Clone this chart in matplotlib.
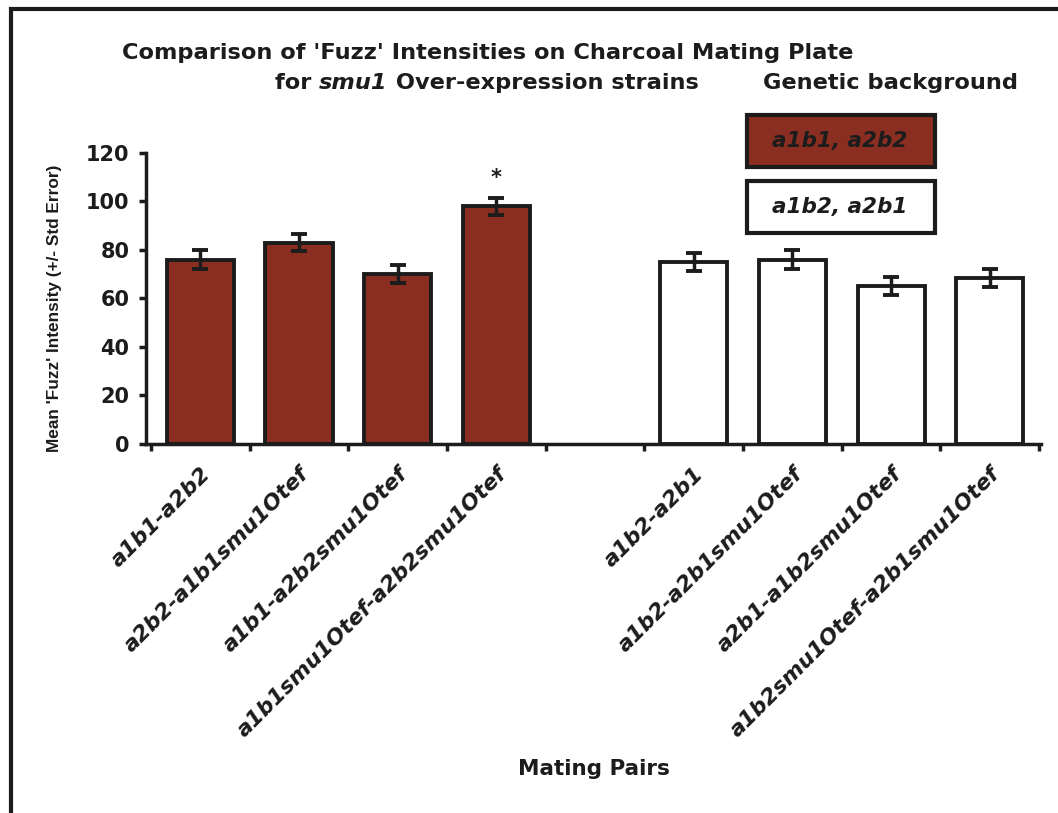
import numpy as np
import matplotlib
matplotlib.use("Agg")
import matplotlib.pyplot as plt
from matplotlib.patches import Rectangle

plt.rcParams['font.family'] = ['DejaVu Sans']
plt.rcParams['font.weight'] = 'bold'

# mating pairs, blank slot separates the two genetic backgrounds
pairs = ["a1b1-a2b2", "a2b2-a1b1smu1Otef", "a1b1-a2b2smu1Otef",
         "a1b1smu1Otef-a2b2smu1Otef", "",
         "a1b2-a2b1", "a1b2-a2b1smu1Otef", "a2b1-a1b2smu1Otef",
         "a1b2smu1Otef-a2b1smu1Otef"]
means = [76, 83, 70, 98, np.nan, 75, 76, 65, 68.5]
errors = [4, 3.5, 3.8, 3.5, np.nan, 3.8, 3.8, 3.8, 3.8]
background = ["a1b1, a2b2"] * 4 + [""] + ["a1b2, a2b1"] * 4
bg_colors = {"a1b1, a2b2": "#8a2e22", "a1b2, a2b1": "white", "": "white"}
signif = [3]

ink = "#1c1c1c"
fig = plt.figure(figsize=(10.58, 8.13), dpi=100)
ax = fig.add_axes([0.138, 0.454, 0.846, 0.358])

x = np.arange(len(pairs))
colors = [bg_colors[b] for b in background]
ax.bar(x, means, width=0.68, color=colors, edgecolor=ink, linewidth=2.8, zorder=2)
ax.errorbar(x, means, yerr=errors, fmt='none', ecolor=ink, elinewidth=2.5,
            capsize=6, capthick=2.8, zorder=3)
for i in signif:
    ax.text(x[i], means[i] + errors[i] + 4, "*", ha='center', va='bottom',
            fontsize=15, color=ink)

ax.set_xlim(-0.55, len(pairs) - 0.48)
ax.set_ylim(0, 120)
ax.set_yticks(np.arange(0, 121, 20))
ax.set_xticks(np.arange(-0.5, len(pairs), 1.0))
ax.set_xticklabels([])
ax.set_xticks(x, minor=True)
ax.set_xticklabels(pairs, minor=True, rotation=45, ha='right',
                   rotation_mode='anchor', style='italic', fontsize=15.8,
                   fontweight='bold', color=ink)
ax.tick_params(axis='x', which='minor', length=0, pad=14)
ax.tick_params(axis='both', which='major', direction='out', length=5,
               width=2.5, color=ink, labelsize=15, labelcolor=ink)
ax.tick_params(axis='y', pad=7)
for s in ['top', 'right']:
    ax.spines[s].set_visible(False)
for s in ['left', 'bottom']:
    ax.spines[s].set_linewidth(2.5)
    ax.spines[s].set_color(ink)

ax.set_ylabel("Mean 'Fuzz' Intensity (+/- Std Error)", fontsize=12.4,
              fontweight='bold', color=ink, family='Liberation Sans')
ax.yaxis.set_label_coords(-0.094, 0.465)
fig.text(0.561, 0.054, "Mating Pairs", ha='center', va='center',
         fontsize=15.5, color=ink)

# title lines
fig.text(0.115, 0.935, "Comparison of 'Fuzz' Intensities on Charcoal Mating Plate",
         ha='left', va='center', fontsize=16.2, color=ink)

# second line with italic gene name, laid out piece by piece
renderer = fig.canvas.get_renderer()
xpos = 275 / 1058
for piece, sty in [("for ", 'normal'), ("smu1", 'italic'),
                   (" Over-expression strains", 'normal')]:
    t = fig.text(xpos, 0.898, piece, ha='left', va='center', fontsize=16.2,
                 style=sty, color=ink)
    bb = t.get_window_extent(renderer=renderer)
    xpos += bb.width / fig.bbox.width

fig.text(0.721, 0.898, "Genetic background", ha='left', va='center',
         fontsize=16.2, color=ink)

# legend boxes for the genetic backgrounds
for label, y0 in [("a1b1, a2b2", 0.795), ("a1b2, a2b1", 0.713)]:
    fig.patches.append(Rectangle((0.706, y0), 0.178, 0.064,
                                 transform=fig.transFigure,
                                 facecolor=bg_colors[label], edgecolor=ink,
                                 linewidth=3))
    fig.text(0.794, y0 + 0.032, label, ha='center', va='center',
             style='italic', fontsize=15.5, color=ink)

# outer frame
fig.patches.append(Rectangle((0.0105, -0.05), 1.1, 1.039,
                             transform=fig.transFigure, fill=False,
                             edgecolor=ink, linewidth=3))

fig.savefig("out.png", dpi=100)
